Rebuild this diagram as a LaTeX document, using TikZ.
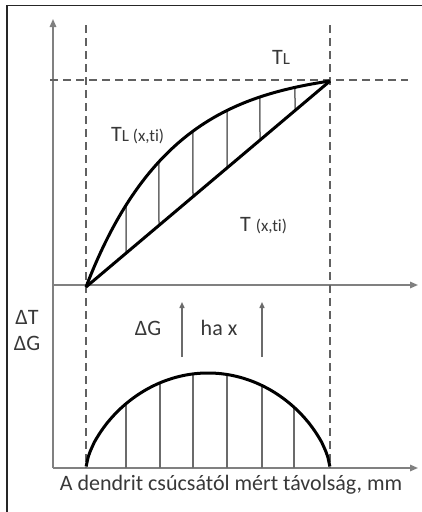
\documentclass[tikz,border=0pt]{standalone}
\usepackage{fontspec}
\setmainfont[Ligatures={NoCommon}]{Carlito}
\usetikzlibrary{arrows.meta,intersections}
\begin{document}
\begin{tikzpicture}[x=1pt,y=-1pt,
  frameline/.style={line width=1.7pt,draw=black!85},
  axisline/.style={line width=1.5pt,draw=black!50,-{Triangle[length=8pt,width=6.5pt]}},
  guide/.style={line width=1.8pt,draw=black!62,dash pattern=on 8pt off 5pt},
  curve/.style={line width=3pt,draw=black,line join=round},
  hatch/.style={line width=1.5pt,draw=black!58},
  uparrow/.style={line width=1.4pt,draw=black!58,-{Triangle[length=6pt,width=5pt]}},
  lab/.style={inner sep=0pt,text=black!78,font=\fontsize{22}{24}\selectfont}]
\useasboundingbox (0,0) rectangle (421,512);
\newcommand{\smallsz}{\fontsize{17}{18}\selectfont}
% frame
\draw[frameline] (7,530) -- (7,5.5) -- (440,5.5);
% axes
\coordinate (ybot) at (53,468);
\coordinate (ytop) at (53,19);
\coordinate (x1l) at (53,285);
\coordinate (x1r) at (418,285);
\coordinate (x2r) at (418,468);
\draw[axisline] (ybot) -- (ytop);
\draw[axisline] (x1l) -- (x1r);
\draw[axisline] (ybot) -- (x2r);
% guides
\coordinate (g1t) at (86,25); \coordinate (g1b) at (86,468);
\coordinate (g2t) at (330,25); \coordinate (g2b) at (330,468);
\coordinate (ghl) at (50,80); \coordinate (ghr) at (408,80);
\draw[guide] (g1t) -- (g1b);
\draw[guide] (g2t) -- (g2b);
\draw[guide] (ghl) -- (ghr);
% upper curves
\coordinate (s) at (86,287);
\coordinate (e) at (330,81);
\path[name path=up] (s) .. controls (146,131) and (230,96) .. (e);
\path[name path=low] (s) -- (e);
\foreach \x in {126,159,193,227,260,295}{
  \path[name path=v] (\x,0) -- (\x,500);
  \draw[hatch,name intersections={of=up and v,name=iu},name intersections={of=low and v,name=il}] (iu-1) -- (il-1);
}
\draw[curve] (s) .. controls (146,131) and (230,96) .. (e);
\draw[curve] (s) -- (e);
% lower dome
\foreach \x in {126,160,193,227,262,294}{
  \pgfmathsetmacro{\yd}{468-95*pow(1-((\x-208)/122)^2,0.65)}
  \draw[hatch] (\x,468) -- (\x,\yd);
}
\draw[curve] plot[domain=-121.9:121.9,samples=120,variable=\t] ({208+\t},{468-95*pow(1-(\t/122)^2,0.65)});
% arrows
\coordinate (a1b) at (182,357); \coordinate (a1t) at (182,302);
\coordinate (a2b) at (262,357); \coordinate (a2t) at (262,302);
\draw[uparrow] (a1b) -- (a1t);
\draw[uparrow] (a2b) -- (a2t);
% labels
\node[lab] (tl) at (281,57) {T\smallsz L};
\node[lab,anchor=west] (tlx) at (111,136) {T\smallsz L (x,ti)};
\node[lab,anchor=west] (tx) at (240,226) {T \smallsz (x,ti)};
\node[lab] (dt) at (27,317) {ΔT};
\node[lab] (dg) at (27,343) {ΔG};
\node[lab] (dg2) at (148,328) {ΔG};
\node[lab] (hax) at (219,328) {ha x};
\node[lab] (cap) at (231,485) {A dendrit csúcsától mért távolság, mm};
\end{tikzpicture}
\end{document}
